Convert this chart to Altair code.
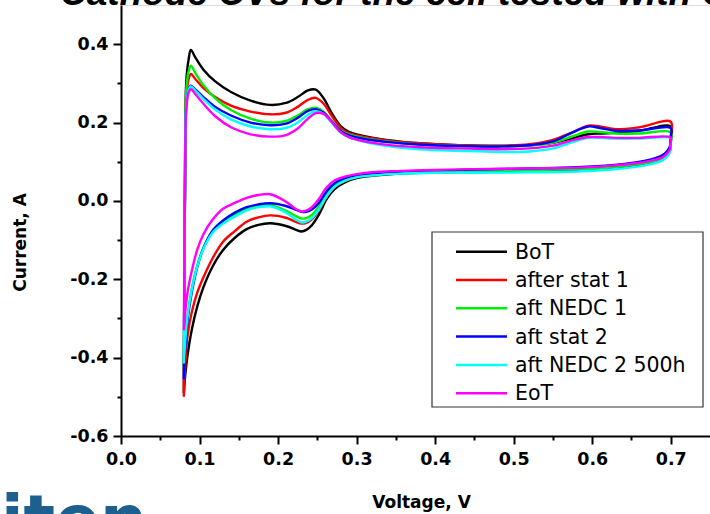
import altair as alt
import pandas as pd

# ---------------- data ----------------
series_names = ["BoT", "after stat 1", "aft NEDC 1", "aft stat 2", "aft NEDC 2 500h", "EoT"]
series_colors = ["#000000", "#ff0000", "#00ee00", "#0000ff", "#00ffff", "#ff00ff"]

# anodic (upper) branch voltages
v_up = [0.080, 0.0805, 0.0815, 0.083, 0.086, 0.089, 0.095, 0.105, 0.12, 0.14, 0.165, 0.19,
        0.21, 0.225, 0.238, 0.248, 0.258, 0.268, 0.28, 0.29, 0.31, 0.34, 0.38, 0.43, 0.48,
        0.52, 0.55, 0.575, 0.595, 0.61, 0.63, 0.66, 0.70]
# cathodic (lower) branch voltages
v_dn = [0.700, 0.699, 0.695, 0.688, 0.675, 0.655, 0.625, 0.58, 0.52, 0.45, 0.40, 0.35, 0.32,
        0.30, 0.285, 0.272, 0.262, 0.252, 0.243, 0.236, 0.230, 0.222, 0.21, 0.19, 0.175, 0.16,
        0.145, 0.13, 0.117, 0.105, 0.097, 0.09, 0.085, 0.082, 0.080]

bot_up = [-0.49, -0.30, 0.05, 0.30, 0.36, 0.385, 0.365, 0.335, 0.305, 0.278, 0.256, 0.245, 0.250,
          0.265, 0.282, 0.284, 0.262, 0.225, 0.190, 0.176, 0.165, 0.155, 0.147, 0.142, 0.140,
          0.142, 0.148, 0.160, 0.170, 0.172, 0.174, 0.179, 0.190]
bot_dn = [0.150, 0.128, 0.115, 0.106, 0.098, 0.090, 0.082, 0.077, 0.075, 0.074, 0.073, 0.069,
          0.064, 0.058, 0.047, 0.030, 0.005, -0.035, -0.062, -0.074, -0.078, -0.073, -0.064,
          -0.057, -0.061, -0.072, -0.094, -0.125, -0.166, -0.22, -0.27, -0.33, -0.39, -0.44, -0.49]

st1_up = [-0.50, -0.30, 0.04, 0.26, 0.31, 0.324, 0.310, 0.288, 0.265, 0.243, 0.228, 0.221, 0.225,
          0.240, 0.258, 0.263, 0.248, 0.218, 0.186, 0.173, 0.163, 0.154, 0.147, 0.142, 0.141,
          0.145, 0.156, 0.175, 0.192, 0.190, 0.183, 0.188, 0.202]
st1_dn = [0.160, 0.135, 0.120, 0.110, 0.101, 0.094, 0.087, 0.082, 0.080, 0.078, 0.076, 0.072,
          0.067, 0.061, 0.051, 0.035, 0.012, -0.025, -0.047, -0.056, -0.058, -0.053, -0.043,
          -0.037, -0.042, -0.053, -0.077, -0.104, -0.145, -0.195, -0.235, -0.285, -0.34, -0.41, -0.50]

ne1_up = [-0.43, -0.25, 0.05, 0.28, 0.33, 0.345, 0.325, 0.295, 0.262, 0.232, 0.210, 0.200, 0.204,
          0.218, 0.234, 0.238, 0.228, 0.205, 0.180, 0.170, 0.160, 0.151, 0.144, 0.140, 0.139,
          0.141, 0.149, 0.165, 0.177, 0.176, 0.172, 0.172, 0.175]
ne1_dn = [0.150, 0.130, 0.118, 0.108, 0.100, 0.093, 0.086, 0.081, 0.079, 0.077, 0.076, 0.072,
          0.068, 0.063, 0.054, 0.040, 0.018, -0.015, -0.036, -0.044, -0.045, -0.038, -0.025,
          -0.011, -0.013, -0.020, -0.034, -0.052, -0.078, -0.12, -0.165, -0.225, -0.29, -0.36, -0.43]

st2_up = [-0.455, -0.27, 0.03, 0.24, 0.285, 0.294, 0.284, 0.265, 0.240, 0.218, 0.200, 0.193, 0.197,
          0.212, 0.230, 0.234, 0.225, 0.203, 0.178, 0.168, 0.158, 0.150, 0.144, 0.140, 0.139,
          0.142, 0.152, 0.175, 0.190, 0.186, 0.179, 0.180, 0.186]
st2_dn = [0.165, 0.140, 0.126, 0.115, 0.106, 0.098, 0.091, 0.086, 0.083, 0.080, 0.078, 0.074,
          0.070, 0.066, 0.058, 0.045, 0.025, -0.005, -0.022, -0.028, -0.028, -0.022, -0.013,
          -0.006, -0.009, -0.016, -0.030, -0.050, -0.075, -0.12, -0.17, -0.235, -0.30, -0.37, -0.455]

ne2_up = [-0.415, -0.25, 0.03, 0.24, 0.283, 0.292, 0.281, 0.260, 0.233, 0.208, 0.190, 0.183, 0.186,
          0.200, 0.220, 0.229, 0.222, 0.200, 0.174, 0.163, 0.151, 0.140, 0.132, 0.128, 0.125,
          0.126, 0.134, 0.150, 0.161, 0.161, 0.159, 0.159, 0.160]
ne2_dn = [0.145, 0.125, 0.112, 0.102, 0.094, 0.087, 0.080, 0.075, 0.073, 0.072, 0.072, 0.069,
          0.065, 0.060, 0.051, 0.036, 0.012, -0.022, -0.044, -0.053, -0.055, -0.047, -0.030,
          -0.014, -0.016, -0.024, -0.040, -0.058, -0.080, -0.122, -0.168, -0.228, -0.29, -0.35, -0.415]

eot_up = [-0.33, -0.20, 0.03, 0.23, 0.276, 0.285, 0.272, 0.248, 0.216, 0.188, 0.170, 0.164, 0.168,
          0.185, 0.210, 0.224, 0.222, 0.202, 0.175, 0.163, 0.152, 0.143, 0.137, 0.134, 0.132,
          0.134, 0.141, 0.155, 0.163, 0.163, 0.161, 0.161, 0.162]
eot_dn = [0.150, 0.132, 0.120, 0.110, 0.103, 0.096, 0.090, 0.085, 0.083, 0.081, 0.079, 0.076,
          0.073, 0.068, 0.062, 0.052, 0.035, 0.005, -0.016, -0.025, -0.027, -0.020, -0.002,
          0.017, 0.015, 0.008, -0.005, -0.020, -0.047, -0.085, -0.125, -0.18, -0.23, -0.28, -0.33]

upper_branches = [bot_up, st1_up, ne1_up, st2_up, ne2_up, eot_up]
lower_branches = [bot_dn, st1_dn, ne1_dn, st2_dn, ne2_dn, eot_dn]

x_ticks = [0.0, 0.05, 0.1, 0.15, 0.2, 0.25, 0.3, 0.35, 0.4, 0.45, 0.5, 0.55, 0.6, 0.65, 0.7]
y_ticks = [-0.6, -0.5, -0.4, -0.3, -0.2, -0.1, 0.0, 0.1, 0.2, 0.3, 0.4]

title_text = "Cathode CVs for the cell tested with C"
logo_text = "iten"

# ---------------- table ----------------
rows = []
for name, up, dn in zip(series_names, upper_branches, lower_branches):
    k = 0
    for v, i in zip(v_up, up):
        rows.append({"series": name, "V": v, "I": i, "idx": k}); k += 1
    for v, i in zip(v_dn, dn):
        rows.append({"series": name, "V": v, "I": i, "idx": k}); k += 1
df = pd.DataFrame(rows)

FONT = "DejaVu Sans"

x_axis = alt.Axis(
    values=x_ticks,
    labelExpr="round(datum.value*100) % 10 === 0 ? format(datum.value, '.1f') : ''",
    tickSize={"condition": {"test": "round(datum.value*100) % 10 === 0", "value": 8}, "value": 4},
    tickWidth=2, tickColor="black", domainWidth=2, domainColor="black",
    labelFont=FONT, labelFontWeight="bold", labelFontSize=17.5, labelColor="black",
    labelPadding=6, labelFlush=False, labelOverlap=False, grid=False,
    title="Voltage, V", titleFont=FONT, titleFontWeight="bold", titleFontSize=17,
    titleColor="black", titleX=300, titleY=66, titleBaseline="middle", titleAlign="center",
)
y_axis = alt.Axis(
    values=y_ticks,
    labelExpr="round(datum.value*10) % 2 === 0 ? replace(format(datum.value, '.1f'), '\u2212', '-') : ''",
    tickSize={"condition": {"test": "round(datum.value*10) % 2 === 0", "value": 8}, "value": 4},
    tickWidth=2, tickColor="black", domainWidth=2, domainColor="black",
    labelFont=FONT, labelFontWeight="bold", labelFontSize=17.5, labelColor="black",
    labelPadding=5, labelFlush=False, labelOverlap=False, grid=False,
    title="Current, A", titleFont=FONT, titleFontWeight="bold", titleFontSize=17,
    titleColor="black", titleX=-101, titleY=237, titleBaseline="middle", titleAlign="center",
    titleAngle=270,
)

lines = alt.Chart(df).mark_line(strokeWidth=2.4, interpolate="catmull-rom").encode(
    x=alt.X("V:Q", scale=alt.Scale(domain=[0, 0.75], nice=False, zero=False), axis=x_axis),
    y=alt.Y("I:Q", scale=alt.Scale(domain=[-0.6, 0.5], nice=False, zero=False), axis=y_axis),
    color=alt.Color("series:N", scale=alt.Scale(domain=series_names, range=series_colors), legend=None),
    order=alt.Order("idx:Q"),
)

one = alt.Data(values=[{"a": 1}])

layers = [lines]

# legend box
layers.append(alt.Chart(one).mark_rect(fill="white", stroke="#333333", strokeWidth=1.2).encode(
    x=alt.value(311), x2=alt.value(582), y=alt.value(227), y2=alt.value(402)))

row0, row_step = 246.7, 28.3
for k, (name, col) in enumerate(zip(series_names, series_colors)):
    yk = row0 + k * row_step
    layers.append(alt.Chart(one).mark_rule(color=col, strokeWidth=2.5).encode(
        x=alt.value(335), x2=alt.value(386), y=alt.value(yk)))
    layers.append(alt.Chart(one).mark_text(text=name, font=FONT, fontSize=20.5, color="black",
                                           align="left", baseline="middle").encode(
        x=alt.value(394), y=alt.value(yk + 1)))

# cropped title at the top
layers.append(alt.Chart(one).mark_text(text=title_text, font="Liberation Sans", fontSize=37,
                                       fontStyle="italic", fontWeight="bold", color="black",
                                       align="left", baseline="alphabetic").encode(
    x=alt.value(-61), y=alt.value(0)))

# cropped logo at the bottom-left
layers.append(alt.Chart(one).mark_text(text=logo_text, font=FONT, fontSize=66, fontWeight="bold",
                                       color="#1d5f8e", align="left", baseline="alphabetic").encode(
    x=alt.value(-120), y=alt.value(537)))

chart = alt.layer(*layers).properties(
    width=589, height=431,
    autosize=alt.AutoSizeParams(type="none"),
    padding={"left": 121, "top": 5, "right": 0, "bottom": 78},
).configure_view(strokeWidth=0).configure(background="white")

chart.save("out.html", embed_options={"renderer": "svg", "actions": False})
